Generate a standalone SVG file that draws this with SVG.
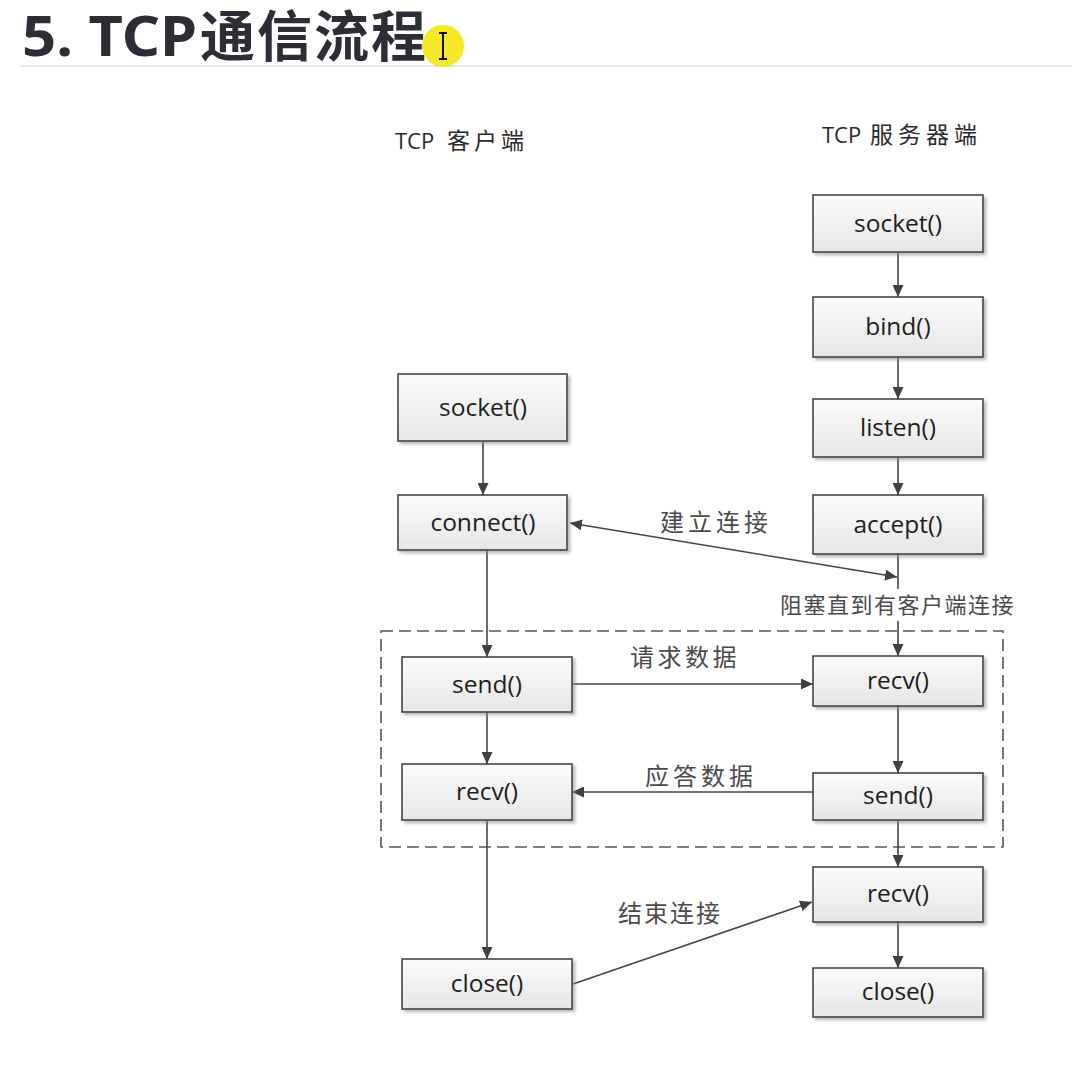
<svg xmlns="http://www.w3.org/2000/svg" width="1072" height="1069" viewBox="0 0 1072 1069">
  <defs>
    <linearGradient id="boxFill" x1="0" y1="0" x2="0" y2="1">
      <stop offset="0" stop-color="#fbfbfb"/>
      <stop offset="1" stop-color="#e6e6e6"/>
    </linearGradient>
    <filter id="shadow" x="-10%" y="-10%" width="130%" height="140%">
      <feDropShadow dx="2.5" dy="2.5" stdDeviation="1.5" flood-color="#888" flood-opacity="0.6"/>
    </filter>
    <marker id="arrow" viewBox="0 0 12 11" refX="12" refY="5.5" markerWidth="12" markerHeight="11" markerUnits="userSpaceOnUse" orient="auto-start-reverse">
      <path d="M0,0 L12,5.5 L0,11 Z" fill="#404040"/>
    </marker>
  </defs>
  <style>
    .box rect { fill: url(#boxFill); stroke: #3a3a3a; stroke-width: 1.5; filter: url(#shadow); }
    .box text { font-family: "Open Sans", "Noto Sans", sans-serif; font-size: 24.5px; fill: #1e1e1e; text-anchor: middle; }
    .conn path { fill: none; stroke: #444; stroke-width: 1.6; }
    .lbl { font-family: "Noto Sans CJK SC", "Noto Sans", sans-serif; fill: #4a4a4a; }
    .hdr { font-family: "Open Sans", "Noto Sans CJK SC", sans-serif; font-size: 22px; fill: #2a2a2a; }
  </style>

  <rect width="1072" height="1069" fill="#ffffff"/>

  <!-- Title -->
  <g id="title">
    <text y="56" font-family="'Noto Sans', 'Noto Sans CJK SC', sans-serif" font-size="55" font-weight="bold" fill="#2d2d36"><tspan x="22" textLength="175" lengthAdjust="spacingAndGlyphs">5. TCP</tspan><tspan x="200" letter-spacing="2">通信流程</tspan></text>
    <line x1="20" y1="66" x2="1072" y2="66" stroke="#e6e6e6" stroke-width="2"/>
    <circle cx="443" cy="46" r="21" fill="#f3e400" opacity="0.85"/>
    <path d="M443 33 V59 M439 33 H447 M439 59 H447" stroke="#111" stroke-width="2" fill="none"/>
  </g>

  <!-- Column headers -->
  <g id="header-client">
    <text class="hdr" x="395" y="149">TCP<tspan x="447" font-family="'Noto Sans CJK SC', sans-serif" letter-spacing="4" font-size="23">客户端</tspan></text>
  </g>
  <g id="header-server">
    <text class="hdr" x="822" y="143">TCP<tspan x="870" font-family="'Noto Sans CJK SC', sans-serif" letter-spacing="5" font-size="23">服务器端</tspan></text>
  </g>

  <!-- Dashed region -->
  <g id="data-region">
    <rect x="381" y="631" width="622" height="216" fill="none" stroke="#555" stroke-width="1.6" stroke-dasharray="12 6"/>
  </g>

  <!-- Connectors -->
  <g id="connectors" class="conn">
    <path d="M898 252 V297" marker-end="url(#arrow)"/>
    <path d="M898 357 V399" marker-end="url(#arrow)"/>
    <path d="M898 457 V495" marker-end="url(#arrow)"/>
    <path d="M898 554 V589"/>
    <path d="M898 621 V656" marker-end="url(#arrow)"/>
    <path d="M898 706 V773" marker-end="url(#arrow)"/>
    <path d="M898 820 V867" marker-end="url(#arrow)"/>
    <path d="M898 922 V968" marker-end="url(#arrow)"/>
    <path d="M570 523 L897 577" marker-start="url(#arrow)" marker-end="url(#arrow)"/>
    <path d="M483 441 V495" marker-end="url(#arrow)"/>
    <path d="M487 550 V657" marker-end="url(#arrow)"/>
    <path d="M487 712 V764" marker-end="url(#arrow)"/>
    <path d="M487 820 V959" marker-end="url(#arrow)"/>
    <path d="M572 684 H813" marker-end="url(#arrow)"/>
    <path d="M813 792 H572" marker-end="url(#arrow)"/>
    <path d="M573 984 L812 902" marker-end="url(#arrow)"/>
  </g>

  <!-- Connector labels -->
  <g id="labels">
    <text class="lbl" x="660" y="531" style="font-size:24px;letter-spacing:4px">建立连接</text>
    <text class="lbl" x="780" y="613" style="font-size:22px;letter-spacing:1.5px">阻塞直到有客户端连接</text>
    <text class="lbl" x="630" y="666" style="font-size:24px;letter-spacing:3.5px">请求数据</text>
    <text class="lbl" x="645" y="785" style="font-size:24px;letter-spacing:4px">应答数据</text>
    <text class="lbl" x="618" y="922" style="font-size:24px;letter-spacing:2px">结束连接</text>
  </g>

  <!-- Server nodes -->
  <g id="srv-socket" class="box"><rect x="813" y="195" width="170" height="57"/><text x="898" y="232">socket()</text></g>
  <g id="srv-bind" class="box"><rect x="813" y="297" width="170" height="60"/><text x="898" y="335">bind()</text></g>
  <g id="srv-listen" class="box"><rect x="813" y="399" width="170" height="58"/><text x="898" y="436">listen()</text></g>
  <g id="srv-accept" class="box"><rect x="813" y="495" width="170" height="59"/><text x="898" y="533">accept()</text></g>
  <g id="srv-recv1" class="box"><rect x="813" y="656" width="170" height="50"/><text x="898" y="689">recv()</text></g>
  <g id="srv-send" class="box"><rect x="813" y="773" width="170" height="47"/><text x="898" y="804">send()</text></g>
  <g id="srv-recv2" class="box"><rect x="813" y="867" width="170" height="55"/><text x="898" y="902">recv()</text></g>
  <g id="srv-close" class="box"><rect x="813" y="968" width="170" height="49"/><text x="898" y="1000">close()</text></g>

  <!-- Client nodes -->
  <g id="cli-socket" class="box"><rect x="398" y="374" width="169" height="67"/><text x="483" y="416">socket()</text></g>
  <g id="cli-connect" class="box"><rect x="398" y="495" width="169" height="55"/><text x="483" y="531">connect()</text></g>
  <g id="cli-send" class="box"><rect x="402" y="657" width="170" height="55"/><text x="487" y="693">send()</text></g>
  <g id="cli-recv" class="box"><rect x="402" y="764" width="170" height="56"/><text x="487" y="800">recv()</text></g>
  <g id="cli-close" class="box"><rect x="402" y="959" width="170" height="50"/><text x="487" y="992">close()</text></g>
</svg>
